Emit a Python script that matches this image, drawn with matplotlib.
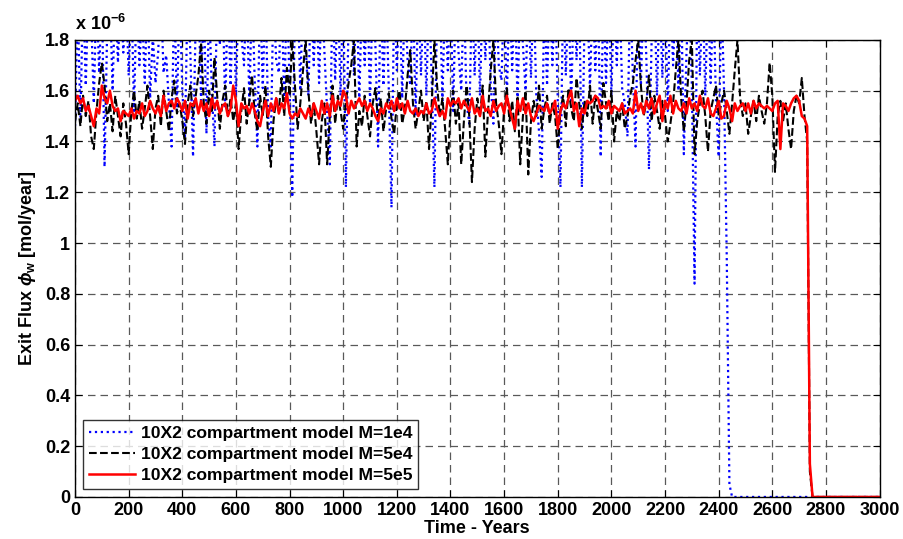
import numpy as np
import matplotlib
matplotlib.use("Agg")
import matplotlib.pyplot as plt
from matplotlib.ticker import FormatStrFormatter

plt.rcParams['font.family'] = ['Liberation Sans', 'DejaVu Sans']
plt.rcParams['font.weight'] = 'bold'
plt.rcParams['mathtext.fontset'] = 'custom'
plt.rcParams['mathtext.rm'] = 'Liberation Sans:bold'
plt.rcParams['mathtext.it'] = 'Liberation Sans:bold:italic'
plt.rcParams['mathtext.bf'] = 'Liberation Sans:bold'

# values in units of 1e-6 mol/year, sampled every 10 years
# M=1e4 (blue) -- values above 1.8 are clipped by the axis in the original
blue_years = list(range(0, 2451, 10)) + [3000]
blue_vals = [
    1.46, 1.95, 1.48, 2.0, 1.62, 2.0, 1.9, 1.55, 2.0, 1.67,
    2.0, 1.30, 1.85, 2.0, 1.60, 2.0, 1.71, 2.0, 1.75, 2.0,
    1.66, 2.0, 1.52, 2.0, 1.70, 1.92, 1.63, 2.0, 1.57, 1.82,
    1.63, 1.75, 2.0, 1.67, 1.74, 1.55, 1.38, 2.0, 1.52, 2.0,
    1.60, 1.42, 2.0, 1.75, 1.34, 1.88, 2.0, 1.55, 2.0, 1.43,
    1.95, 1.60, 1.38, 2.0, 1.78, 2.0, 1.53, 2.0, 1.62, 2.0,
    1.58, 2.0, 1.82, 1.70, 2.0, 1.56, 2.0, 1.64, 1.38, 2.0,
    1.61, 2.0, 1.50, 1.38, 2.0, 1.72, 1.67, 2.0, 1.55, 2.0,
    1.62, 1.18, 1.95, 2.0, 1.60, 2.0, 1.77, 1.58, 2.0, 1.70,
    2.0, 1.63, 2.0, 1.75, 1.52, 1.31, 2.0, 1.64, 2.0, 1.58,
    2.0, 1.22, 1.90, 2.0, 1.66, 2.0, 1.56, 2.0, 1.70, 2.0,
    1.55, 2.0, 1.78, 1.38, 2.0, 1.62, 2.0, 1.60, 1.14, 2.0,
    1.68, 2.0, 1.57, 2.0, 1.72, 1.62, 2.0, 1.50, 2.0, 1.66,
    2.0, 1.58, 2.0, 1.64, 1.22, 1.95, 2.0, 1.56, 2.0, 1.68,
    2.0, 1.52, 2.0, 1.75, 1.60, 2.0, 1.55, 1.47, 2.0, 1.66,
    2.0, 1.58, 2.0, 1.72, 2.0, 1.62, 1.47, 2.0, 1.70, 1.64,
    2.0, 1.56, 2.0, 1.68, 2.0, 1.55, 2.0, 1.78, 1.60, 2.0,
    1.65, 2.0, 1.58, 1.44, 1.26, 2.0, 1.62, 2.0, 1.70, 2.0,
    1.56, 1.22, 2.0, 1.66, 2.0, 1.54, 2.0, 1.72, 2.0, 1.22,
    1.90, 2.0, 1.60, 2.0, 1.68, 2.0, 1.34, 2.0, 1.63, 2.0,
    1.58, 2.0, 1.70, 2.0, 1.61, 1.55, 1.42, 2.0, 1.66, 1.38,
    2.0, 1.62, 2.0, 1.74, 1.29, 1.80, 2.0, 1.58, 2.0, 1.65,
    2.0, 1.52, 2.0, 1.70, 2.0, 1.60, 2.0, 1.35, 1.75, 2.0,
    1.62, 0.84, 2.0, 1.66, 2.0, 1.58, 2.0, 1.63, 2.0, 1.55,
    1.34, 2.0, 1.60, 0.95, 0.05, 0.00,
    0.00,
]

# M=5e4 (black)
black_years = list(range(0, 2751, 10)) + [3000]
black_vals = [
    1.48, 1.55, 1.46, 1.58, 1.50, 1.56, 1.42, 1.37, 1.52, 1.63,
    1.71, 1.62, 1.48, 1.55, 1.44, 1.58, 1.50, 1.42, 1.55, 1.47,
    1.35, 1.52, 1.60, 1.49, 1.56, 1.45, 1.53, 1.62, 1.50, 1.37,
    1.53, 1.58, 1.46, 1.60, 1.52, 1.44, 1.57, 1.64, 1.51, 1.55,
    1.48, 1.39, 1.55, 1.62, 1.50, 1.58, 1.66, 1.79, 1.55, 1.47,
    1.60, 1.52, 1.73, 1.58, 1.45, 1.56, 1.62, 1.50, 1.57, 1.48,
    1.55, 1.37, 1.52, 1.61, 1.47, 1.56, 1.66, 1.51, 1.44, 1.58,
    1.50, 1.62, 1.42, 1.30, 1.48, 1.57, 1.52, 1.65, 1.50, 1.69,
    1.58, 1.80, 1.62, 1.45, 1.55, 1.68, 1.80, 1.60, 1.47, 1.55,
    1.44, 1.31, 1.48, 1.55, 1.31, 1.50, 1.62, 1.47, 1.58, 1.52,
    1.45, 1.56, 1.63, 1.70, 1.80, 1.38, 1.52, 1.46, 1.58, 1.50,
    1.42, 1.55, 1.61, 1.48, 1.57, 1.44, 1.53, 1.59, 1.49, 1.43,
    1.55, 1.60, 1.47, 1.53, 1.66, 1.76, 1.55, 1.45, 1.52, 1.60,
    1.48, 1.56, 1.37, 1.55, 1.80, 1.62, 1.50, 1.57, 1.45, 1.31,
    1.52, 1.60, 1.47, 1.55, 1.31, 1.48, 1.62, 1.50, 1.24, 1.45,
    1.57, 1.50, 1.62, 1.34, 1.52, 1.68, 1.80, 1.55, 1.47, 1.35,
    1.53, 1.61, 1.48, 1.56, 1.44, 1.58, 1.31, 1.50, 1.60, 1.27,
    1.48, 1.56, 1.50, 1.62, 1.45, 1.53, 1.58, 1.47, 1.55, 1.50,
    1.37, 1.52, 1.58, 1.46, 1.61, 1.53, 1.48, 1.65, 1.55, 1.45,
    1.56, 1.50, 1.62, 1.47, 1.58, 1.52, 1.45, 1.63, 1.55, 1.48,
    1.60, 1.40, 1.52, 1.48, 1.55, 1.45, 1.50, 1.58, 1.63, 1.72,
    1.80, 1.62, 1.50, 1.55, 1.66, 1.48, 1.58, 1.52, 1.45, 1.56,
    1.50, 1.40, 1.47, 1.55, 1.68, 1.80, 1.57, 1.44, 1.55, 1.72,
    1.80, 1.35, 1.48, 1.55, 1.60, 1.50, 1.36, 1.52, 1.57, 1.62,
    1.50, 1.55, 1.60, 1.52, 1.43, 1.55, 1.68, 1.80, 1.57, 1.50,
    1.55, 1.43, 1.50, 1.56, 1.48, 1.58, 1.52, 1.47, 1.55, 1.71,
    1.58, 1.28, 1.50, 1.56, 1.48, 1.55, 1.45, 1.37, 1.52, 1.58,
    1.55, 1.65, 1.50, 1.40, 0.10, 0.00,
    0.00,
]

# M=5e5 (red)
red_years = list(range(0, 2751, 10)) + [3000]
red_vals = [
    1.56, 1.58, 1.55, 1.57, 1.52, 1.54, 1.50, 1.46, 1.53, 1.51,
    1.62, 1.57, 1.55, 1.60, 1.54, 1.52, 1.53, 1.48, 1.52, 1.51,
    1.50, 1.53, 1.49, 1.52, 1.51, 1.55, 1.50, 1.52, 1.56, 1.53,
    1.51, 1.54, 1.50, 1.58, 1.52, 1.55, 1.56, 1.53, 1.57, 1.55,
    1.52, 1.56, 1.49, 1.55, 1.54, 1.57, 1.51, 1.56, 1.52, 1.55,
    1.50, 1.57, 1.53, 1.56, 1.51, 1.54, 1.55, 1.50, 1.53, 1.62,
    1.56, 1.46, 1.55, 1.53, 1.54, 1.51, 1.55, 1.52, 1.48, 1.46,
    1.52, 1.56, 1.50, 1.55, 1.52, 1.57, 1.51, 1.55, 1.53, 1.59,
    1.51, 1.49, 1.51, 1.50, 1.53, 1.51, 1.49, 1.53, 1.50, 1.55,
    1.52, 1.49, 1.56, 1.51, 1.55, 1.50, 1.58, 1.52, 1.56, 1.54,
    1.60, 1.58, 1.51, 1.56, 1.53, 1.55, 1.57, 1.54, 1.56, 1.52,
    1.55, 1.53, 1.50, 1.48, 1.53, 1.51, 1.55, 1.53, 1.56, 1.52,
    1.57, 1.53, 1.55, 1.51, 1.56, 1.52, 1.51, 1.53, 1.50, 1.52,
    1.51, 1.55, 1.51, 1.52, 1.57, 1.53, 1.50, 1.52, 1.49, 1.57,
    1.54, 1.56, 1.55, 1.57, 1.53, 1.56, 1.54, 1.52, 1.57, 1.51,
    1.53, 1.50, 1.58, 1.52, 1.53, 1.50, 1.56, 1.52, 1.54, 1.55,
    1.51, 1.58, 1.53, 1.49, 1.45, 1.56, 1.52, 1.57, 1.51, 1.55,
    1.50, 1.48, 1.51, 1.54, 1.53, 1.52, 1.55, 1.51, 1.53, 1.56,
    1.45, 1.52, 1.55, 1.53, 1.57, 1.60, 1.52, 1.55, 1.46, 1.53,
    1.51, 1.56, 1.55, 1.56, 1.58, 1.57, 1.53, 1.54, 1.53, 1.56,
    1.51, 1.54, 1.53, 1.52, 1.55, 1.51, 1.52, 1.53, 1.51, 1.60,
    1.52, 1.55, 1.51, 1.56, 1.53, 1.57, 1.51, 1.55, 1.58, 1.48,
    1.56, 1.53, 1.58, 1.51, 1.56, 1.53, 1.52, 1.55, 1.51, 1.57,
    1.53, 1.55, 1.52, 1.58, 1.54, 1.53, 1.57, 1.51, 1.50, 1.53,
    1.56, 1.49, 1.50, 1.56, 1.53, 1.48, 1.55, 1.52, 1.54, 1.55,
    1.52, 1.55, 1.51, 1.56, 1.53, 1.55, 1.54, 1.53, 1.54, 1.53,
    1.52, 1.55, 1.56, 1.37, 1.55, 1.54, 1.52, 1.55, 1.57, 1.58,
    1.56, 1.50, 1.49, 1.46, 0.13, 0.00,
    0.00,
]

labels = ['10X2 compartment model M=1e4',
          '10X2 compartment model M=5e4',
          '10X2 compartment model M=5e5']

fig = plt.figure(figsize=(9.04, 5.39), dpi=100)
ax = fig.add_axes([0.083, 0.078, 0.890, 0.848])

ax.plot(blue_years, blue_vals, ':', color='blue', lw=1.6, label=labels[0])
ax.plot(black_years, black_vals, '--', color='black', lw=1.5, label=labels[1])
ax.plot(red_years, red_vals, '-', color='red', lw=1.8, label=labels[2])

ax.set_xlim(0, 3000)
ax.set_ylim(0, 1.8)
ax.set_xticks(np.arange(0, 3001, 200))
ax.set_yticks(np.arange(0, 1.81, 0.2))
ax.yaxis.set_major_formatter(FormatStrFormatter('%g'))
ax.tick_params(direction='in', top=True, right=True, labelsize=13, length=5)
for lab in ax.get_xticklabels() + ax.get_yticklabels():
    lab.set_fontweight('bold')

ax.grid(True, linestyle=(0, (6, 4)), color='0.35', lw=0.9)
for sp in ax.spines.values():
    sp.set_linewidth(1.0)

ax.set_xlabel('Time - Years', fontsize=13, fontweight='bold', labelpad=1)
ax.set_ylabel(r'Exit Flux $\phi_{\mathbf{w}}$ [mol/year]', fontsize=13, fontweight='bold', labelpad=5)
ax.text(0.0, 1.012, r'x 10$^{\mathbf{-6}}$', transform=ax.transAxes, fontsize=13,
        fontweight='bold', ha='left', va='bottom')

leg = ax.legend(loc='lower left', fontsize=12.6, frameon=True, fancybox=False,
                edgecolor='black', borderaxespad=0.45, handlelength=2.6,
                handletextpad=0.35, borderpad=0.35, labelspacing=0.33)
leg.get_frame().set_linewidth(1.0)
for t in leg.get_texts():
    t.set_fontweight('bold')

fig.savefig('out.png', dpi=100)
